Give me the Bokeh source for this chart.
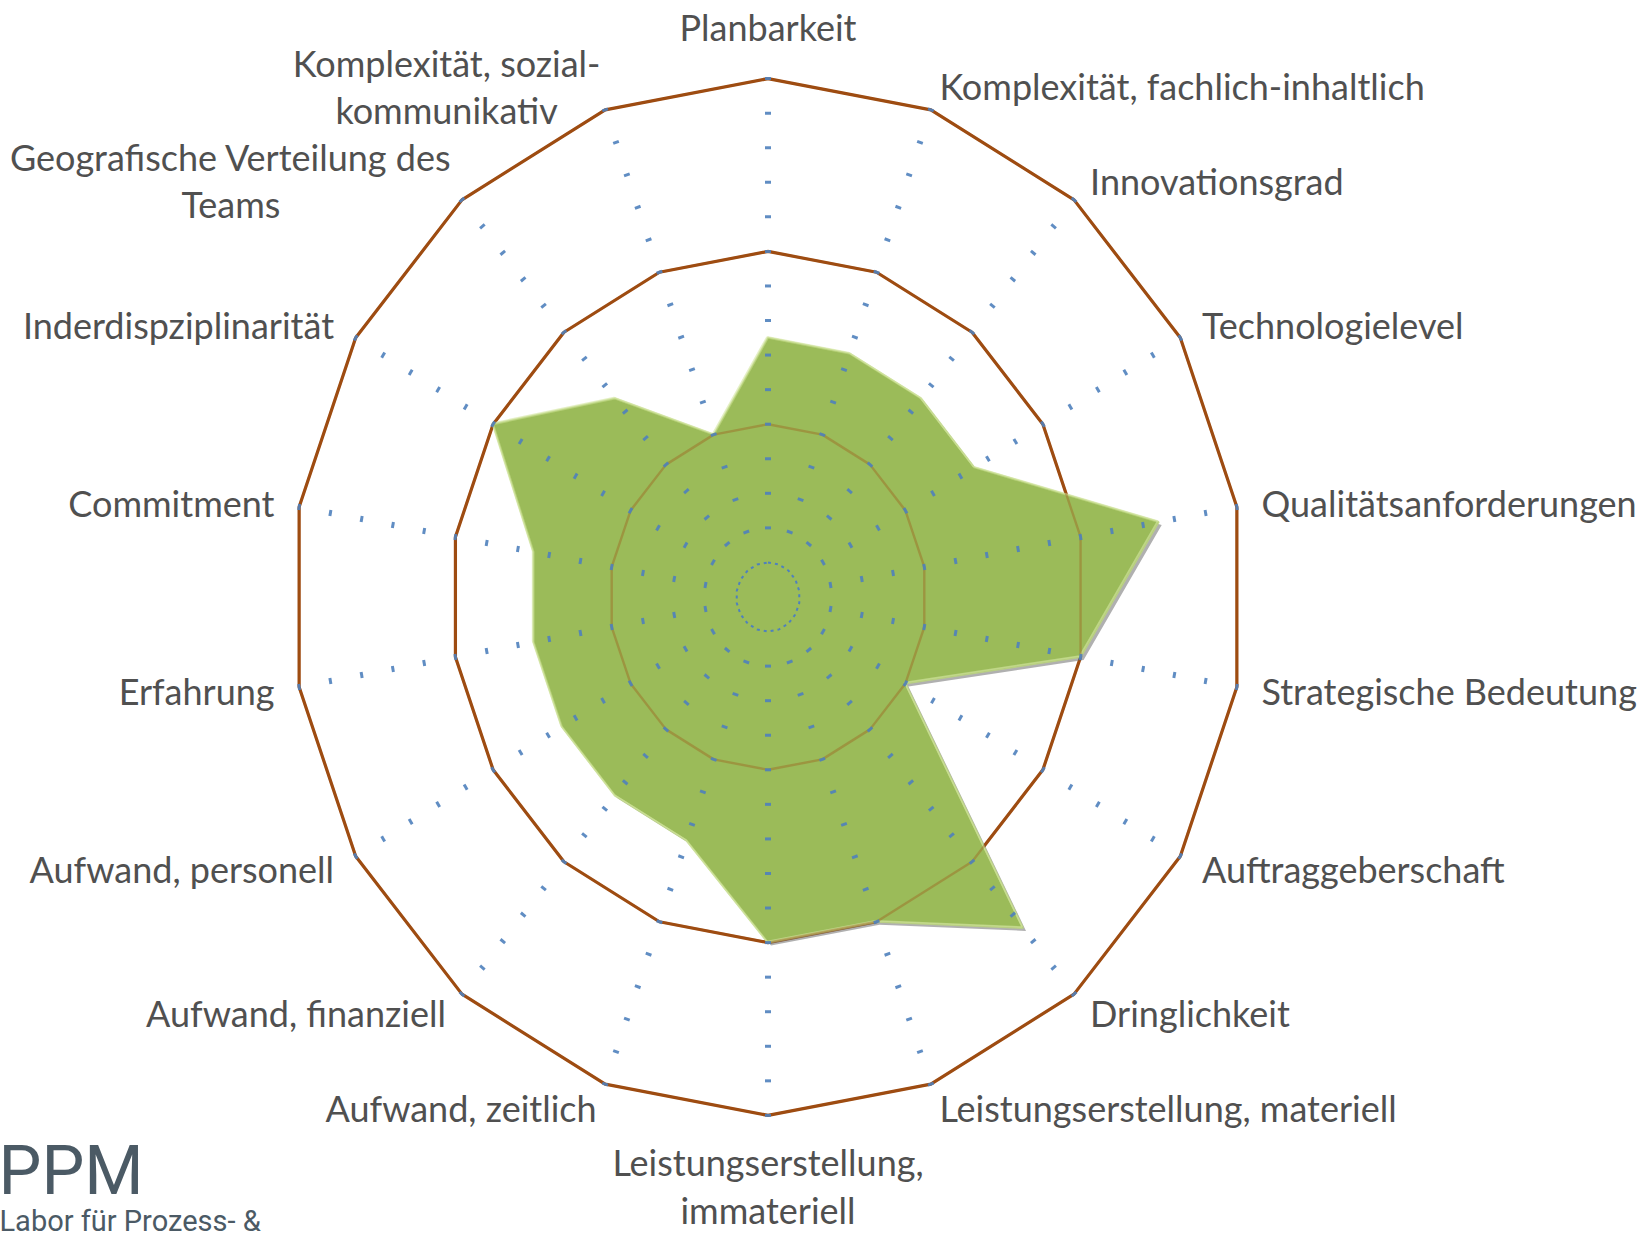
import numpy as np
from bokeh.plotting import figure
from bokeh.models import Range1d
from bokeh.core.properties import value
from bokeh.embed import file_html
from bokeh.resources import INLINE

# ---------------- data ----------------
categories = [
    "Planbarkeit",
    "Komplexität, fachlich-inhaltlich",
    "Innovationsgrad",
    "Technologielevel",
    "Qualitätsanforderungen",
    "Strategische Bedeutung",
    "Auftraggeberschaft",
    "Dringlichkeit",
    "Leistungserstellung, materiell",
    "Leistungserstellung,\nimmateriell",
    "Aufwand, zeitlich",
    "Aufwand, finanziell",
    "Aufwand, personell",
    "Erfahrung",
    "Commitment",
    "Inderdispziplinarität",
    "Geografische Verteilung des\nTeams",
    "Komplexität, sozial-\nkommunikativ",
]
values = [1.5, 1.5, 1.5, 1.5, 2.5, 2.0, 1.0, 2.5, 2.0, 2.0,
          1.5, 1.5, 1.5, 1.5, 1.5, 2.0, 1.5, 1.0]
major_ticks = [1, 2, 3]
minor_step = 0.2
r_max = 3

logo_title = "PPM"
logo_sub = "Labor für Prozess- &"

# ---------------- layout ----------------
W, H = 1637, 1236
CX, CY = 767.5, 596.5          # centre in canvas px
UX, UY = 158.7, 172.8          # px per unit (x, y)

x0 = -CX / UX
x1 = (W - CX) / UX
y1 = CY / UY
y0 = -(H - CY) / UY

def px2x(px):
    return x0 + px / UX

def px2y(py):
    return y1 - py / UY

n = len(categories)
theta = np.pi / 2 - np.arange(n) * 2 * np.pi / n
cos_t, sin_t = np.cos(theta), np.sin(theta)

p = figure(width=W, height=H, x_range=Range1d(x0, x1), y_range=Range1d(y0, y1),
           x_axis_type=None, y_axis_type=None, toolbar_location=None,
           output_backend="svg", min_border=0, outline_line_color=None,
           background_fill_color="white", border_fill_color="white")
p.xgrid.visible = False
p.ygrid.visible = False

BROWN = "#9E4C12"
GREEN = "#9BBB59"
BLUE = "#4F81BD"

def ring(r):
    xs = list(r * cos_t) + [r * cos_t[0]]
    ys = list(r * sin_t) + [r * sin_t[0]]
    return xs, ys

# major rings (under the series)
for r in major_ticks:
    xs, ys = ring(r)
    p.line(xs, ys, line_color=BROWN, line_width=3.2)

# series: shadow + fill + soft highlight edge
vals = np.array(values)
sx = vals * cos_t
sy = vals * sin_t
p.patch(list(sx + 3 / UX), list(sy - 3 / UY), fill_color="#6f6f6f", fill_alpha=0.55, line_color=None)
p.patch(list(sx), list(sy), fill_color=GREEN, fill_alpha=1.0, line_color="#bcd47e", line_width=2, line_alpha=0.8)
p.line(list(sx - 1 / UX) + [sx[0] - 1 / UX], list(sy + 1 / UY) + [sy[0] + 1 / UY],
       line_color="#d3e6a2", line_width=1.5, line_alpha=0.6)

# rings seen through the semi-transparent fill
for r in major_ticks:
    xs, ys = ring(r)
    p.line(xs, ys, line_color=BROWN, line_width=2.4, line_alpha=0.34)

# minor grid: innermost dashed ring + dots at intersections
xs, ys = ring(minor_step)
p.line(xs, ys, line_color=BLUE, line_width=2, line_dash="3 4")
gx, gy, ga = [], [], []
k = 2
while k * minor_step <= r_max + 1e-9:
    r = k * minor_step
    gx += list(r * cos_t)
    gy += list(r * sin_t)
    ga += list(theta + np.pi / 2)
    k += 1
p.scatter(gx, gy, marker="dash", size=6, angle=ga, line_color=BLUE, line_width=3, line_alpha=0.9)

# category labels
GAP = 25
shift = {16: -215, 17: -150}
for i, lab in enumerate(categories):
    c, s = cos_t[i], sin_t[i]
    if abs(c) < 1e-6:
        align = "center"
    elif c > 0:
        align = "left"
    else:
        align = "right"
    if s > 0.999:
        base, gap = "bottom", 30
    elif s < -0.999:
        base, gap = "top", 25
    else:
        base, gap = "middle", GAP
    xo = gap * c
    if i in shift:
        align = "center"
        xo += shift[i]
    p.text(x=[r_max * c], y=[r_max * s], text=[lab], x_offset=xo, y_offset=-gap * s,
           text_font=value("Lato"), text_font_size="36px", text_color="#505050",
           text_align=align, text_baseline=base, text_line_height=1.08)

# logo text bottom-left
p.text(x=[px2x(-2)], y=[px2y(1170)], text=[logo_title], text_font=value("Roboto"),
       text_font_size="68px", text_color="#4B5A65", text_align="left", text_baseline="alphabetic")
p.text(x=[px2x(-1)], y=[px2y(1220)], text=[logo_sub], text_font=value("Roboto"),
       text_font_size="29px", text_color="#4B5A65", text_align="left", text_baseline="alphabetic")

open("out.html", "w").write(file_html(p, INLINE))
